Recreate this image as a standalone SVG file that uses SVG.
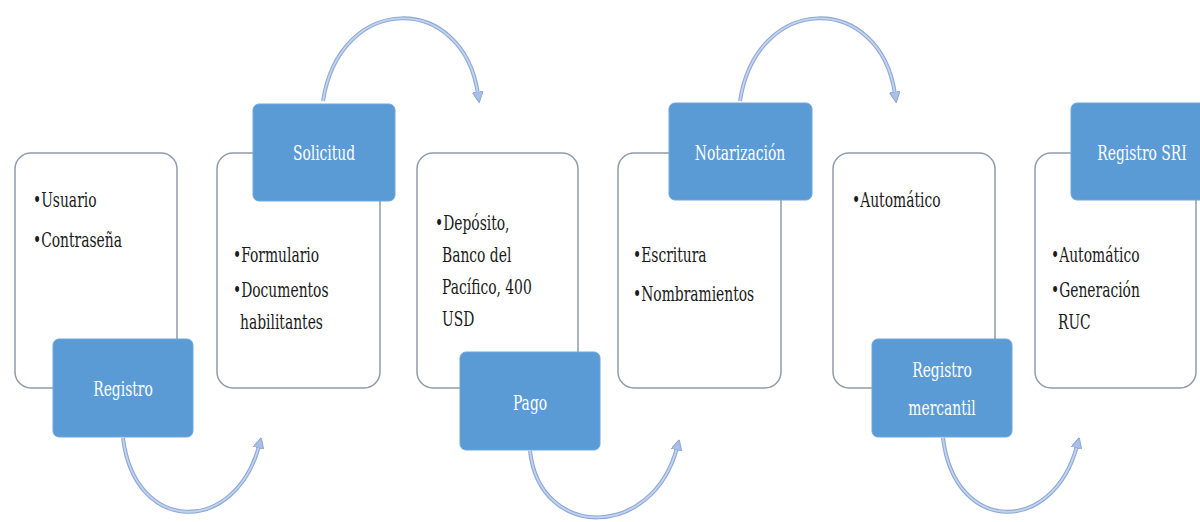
<svg xmlns="http://www.w3.org/2000/svg" width="1200" height="522" viewBox="0 0 1200 522">
  <style>
    .card { fill: #ffffff; stroke: #8f9aab; stroke-width: 1.5; }
    .tab { fill: #5b9bd5; stroke: #6ea6da; stroke-width: 1; }
    .body { font-family: "DejaVu Serif", "Liberation Serif", serif; font-size: 21px; fill: #1a1a1a; }
    .lbl { font-family: "DejaVu Serif", "Liberation Serif", serif; font-size: 21px; fill: #ffffff; text-anchor: middle; }
    .arc-o { fill: none; stroke: #8ea8d6; stroke-width: 4; }
    .arc-i { fill: none; stroke: #c2d3ef; stroke-width: 1.8; }
  </style>
  <defs>
    <marker id="head" viewBox="0 0 10 10" refX="2" refY="5" markerWidth="6" markerHeight="6" orient="auto" markerUnits="strokeWidth">
      <path d="M0,0 L10,5 L0,10 Z" fill="#a9bfe6" stroke="#8ea8d6" stroke-width="1"/>
    </marker>
  </defs>
  <rect width="1200" height="522" fill="#ffffff"/>

  <g id="connectors">
    <path class="arc-o" d="M323,101 C340,-8 463,-8 478,94"/>
    <path class="arc-i" d="M323,101 C340,-8 463,-8 478,94" marker-end="url(#head)"/>
    <path class="arc-o" d="M740,101 C757,-8 880,-8 895,94"/>
    <path class="arc-i" d="M740,101 C757,-8 880,-8 895,94" marker-end="url(#head)"/>
    <path class="arc-o" d="M123,438 C135,535 235,535 259,446"/>
    <path class="arc-i" d="M123,438 C135,535 235,535 259,446" marker-end="url(#head)"/>
    <path class="arc-o" d="M530,451 C540,540 652,540 677,448"/>
    <path class="arc-i" d="M530,451 C540,540 652,540 677,448" marker-end="url(#head)"/>
    <path class="arc-o" d="M943,438 C955,535 1053,535 1077,446"/>
    <path class="arc-i" d="M943,438 C955,535 1053,535 1077,446" marker-end="url(#head)"/>
  </g>

  <g id="registro">
    <rect class="card" x="15" y="153" width="162" height="235" rx="16"/>
    <text class="body" transform="translate(33,207) scale(0.66 1)">•Usuario</text>
    <text class="body" transform="translate(33,247) scale(0.66 1)">•Contraseña</text>
    <rect class="tab" x="53" y="339" width="140" height="98" rx="6"/>
    <text class="lbl" transform="translate(123,396) scale(0.66 1)">Registro</text>
  </g>

  <g id="solicitud">
    <rect class="card" x="217" y="153" width="163" height="235" rx="16"/>
    <rect class="tab" x="253" y="104" width="142" height="97" rx="6"/>
    <text class="lbl" transform="translate(324,160) scale(0.66 1)">Solicitud</text>
    <text class="body" transform="translate(233,262) scale(0.66 1)">•Formulario</text>
    <text class="body" transform="translate(233,297) scale(0.66 1)">•Documentos</text>
    <text class="body" transform="translate(240,329) scale(0.66 1)">habilitantes</text>
  </g>

  <g id="pago">
    <rect class="card" x="417" y="153" width="161" height="235" rx="16"/>
    <text class="body" transform="translate(435,230) scale(0.66 1)">•Depósito,</text>
    <text class="body" transform="translate(442,262) scale(0.66 1)">Banco del</text>
    <text class="body" transform="translate(442,294) scale(0.66 1)">Pacífico, 400</text>
    <text class="body" transform="translate(442,326) scale(0.66 1)">USD</text>
    <rect class="tab" x="460" y="352" width="140" height="98" rx="6"/>
    <text class="lbl" transform="translate(530,410) scale(0.66 1)">Pago</text>
  </g>

  <g id="notarizacion">
    <rect class="card" x="618" y="153" width="163" height="235" rx="16"/>
    <rect class="tab" x="669" y="103" width="143" height="97" rx="6"/>
    <text class="lbl" transform="translate(740,160) scale(0.66 1)">Notarización</text>
    <text class="body" transform="translate(633,262) scale(0.66 1)">•Escritura</text>
    <text class="body" transform="translate(633,301) scale(0.66 1)">•Nombramientos</text>
  </g>

  <g id="registro-mercantil">
    <rect class="card" x="833" y="153" width="162" height="235" rx="16"/>
    <text class="body" transform="translate(852,207) scale(0.66 1)">•Automático</text>
    <rect class="tab" x="872" y="339" width="140" height="98" rx="6"/>
    <text class="lbl" transform="translate(942,377) scale(0.66 1)">Registro</text>
    <text class="lbl" transform="translate(942,415) scale(0.66 1)">mercantil</text>
  </g>

  <g id="registro-sri">
    <rect class="card" x="1035" y="153" width="161" height="235" rx="16"/>
    <rect class="tab" x="1071" y="103" width="143" height="97" rx="6"/>
    <text class="lbl" transform="translate(1142,160) scale(0.66 1)">Registro SRI</text>
    <text class="body" transform="translate(1051,262) scale(0.66 1)">•Automático</text>
    <text class="body" transform="translate(1051,297) scale(0.66 1)">•Generación</text>
    <text class="body" transform="translate(1058,329) scale(0.66 1)">RUC</text>
  </g>
</svg>
